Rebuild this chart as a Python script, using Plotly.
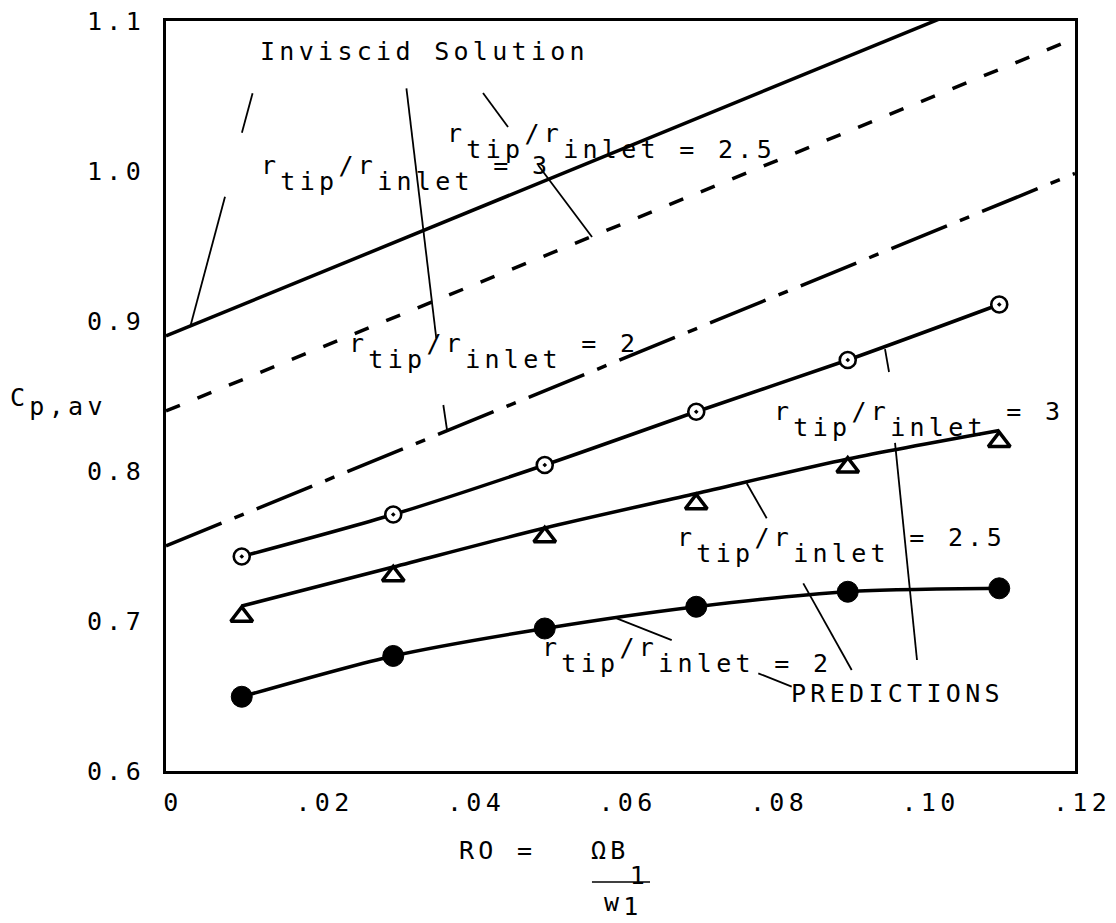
import plotly.graph_objects as go

# ---------------- data ----------------
x_meas = [0.01, 0.03, 0.05, 0.07, 0.09, 0.11]

# measured points
meas_r3 = [0.743, 0.771, 0.804, 0.8395, 0.874, 0.911]      # circle with dot
meas_r25 = [0.703, 0.730, 0.756, 0.778, 0.8025, 0.8195]    # open triangles
meas_r2 = [0.6495, 0.6767, 0.695, 0.7095, 0.7195, 0.7218]  # filled circles

# predictions (smooth curves)
pred_r3 = [0.743, 0.771, 0.804, 0.8395, 0.874, 0.911]
pred_r25 = [0.710, 0.736, 0.762, 0.785, 0.808, 0.827]
pred_r2 = [0.6495, 0.6767, 0.695, 0.7095, 0.7195, 0.7218]

# inviscid solution (straight lines)
inv_x = [0.0, 0.12]
inv_r3 = [0.89, 1.1384]
inv_r25 = [0.84, 1.0884]
inv_r2 = [0.75, 0.9984]

ratio_values = ["3", "2.5", "2"]

x_tickvals = [0, 0.02, 0.04, 0.06, 0.08, 0.10, 0.12]
x_ticktext = ["0", ".02", ".04", ".06", ".08", ".10", ".12"]
y_tickvals = [0.6, 0.7, 0.8, 0.9, 1.0, 1.1]
y_ticktext = ["0.6", "0.7", "0.8", "0.9", "1.0", "1.1"]

# ---------------- styling helpers ----------------
FONT = "DejaVu Sans Mono"
FS = 25
LS = "letter-spacing:4.3px"


def spaced(t):
    return f'<span style="{LS}">{t}</span>'


def low(t, shift=16):
    return f'<span style="baseline-shift:-{shift}px">{t}</span>'


def ratio_label(val, eq_low):
    eq = f" = {val}"
    return spaced("r" + low("tip") + "/r" + low("inlet") + (low(eq) if eq_low else eq))


fig = go.Figure()

# inviscid solution lines
fig.add_trace(go.Scatter(x=inv_x, y=inv_r3, mode="lines",
                         line=dict(color="black", width=3.5), showlegend=False))
fig.add_trace(go.Scatter(x=inv_x, y=inv_r25, mode="lines",
                         line=dict(color="black", width=3.5, dash="15px,19px"), showlegend=False))
fig.add_trace(go.Scatter(x=inv_x, y=inv_r2, mode="lines",
                         line=dict(color="black", width=3.5, dash="60px,14px,10px,14px"),
                         showlegend=False))

# prediction curves
for ys in (pred_r3, pred_r25, pred_r2):
    fig.add_trace(go.Scatter(x=x_meas, y=ys, mode="lines",
                             line=dict(color="black", width=3.5, shape="spline", smoothing=0.8),
                             showlegend=False))

# measured markers
fig.add_trace(go.Scatter(x=x_meas, y=meas_r3, mode="markers", showlegend=False,
                         marker=dict(symbol="circle-dot", size=16, color="white",
                                     line=dict(color="black", width=2.6))))
fig.add_trace(go.Scatter(x=x_meas, y=meas_r25, mode="markers", showlegend=False,
                         marker=dict(symbol="triangle-up", size=19, color="white",
                                     line=dict(color="black", width=3.6))))
fig.add_trace(go.Scatter(x=x_meas, y=meas_r2, mode="markers", showlegend=False,
                         marker=dict(symbol="circle", size=21, color="black",
                                     line=dict(color="black", width=1))))

# leader lines (annotation pointers), data coordinates
leaders = [
    (0.01143, 1.0518, 0.01002, 1.0255),
    (0.00779, 0.9829, 0.00319, 0.8960),
    (0.03174, 1.0551, 0.03568, 0.8885),
    (0.04185, 1.0520, 0.04515, 1.0293),
    (0.04911, 1.0040, 0.05624, 0.9560),
    (0.03661, 0.8440, 0.03714, 0.8260),
    (0.09492, 0.8813, 0.09545, 0.8660),
    (0.07666, 0.7918, 0.07930, 0.7685),
    (0.05950, 0.7018, 0.06676, 0.6873),
    (0.07819, 0.6651, 0.08260, 0.6562),
    (0.08413, 0.7251, 0.09052, 0.6673),
    (0.09624, 0.8187, 0.09914, 0.6740),
]
shapes = [dict(type="line", xref="x", yref="y", x0=a, y0=b, x1=c, y1=d,
               line=dict(color="black", width=1.8)) for a, b, c, d in leaders]
# fraction bar of the x-axis title
shapes.append(dict(type="line", xref="paper", yref="paper", x0=0.4686, x1=0.5325,
                   y0=-0.148, y1=-0.148, line=dict(color="black", width=1.5)))

ann_font = dict(family=FONT, size=FS, color="black")


def ann(text, x, y, ref="data"):
    d = dict(text=text, x=x, y=y, xanchor="left", yanchor="top", showarrow=False,
             font=ann_font, align="left")
    if ref == "paper":
        d.update(xref="paper", yref="paper")
    else:
        d.update(xref="x", yref="y")
    return d


annotations = [
    ann(spaced("Inviscid Solution"), 0.01215, 1.0905),
    ann(ratio_label(ratio_values[0], False), 0.01228, 1.0150),
    ann(ratio_label(ratio_values[1], True), 0.03683, 1.0362),
    ann(ratio_label(ratio_values[2], False), 0.02389, 0.8958),
    ann(ratio_label(ratio_values[0], False), 0.0800, 0.8504),
    ann(ratio_label(ratio_values[1], False), 0.0672, 0.7668),
    ann(ratio_label(ratio_values[2], True), 0.04937, 0.6935),
    ann(spaced("PREDICTIONS"), 0.08224, 0.6626),
    # axis titles
    ann(spaced("C" + low("p,av", 9)), -0.1738, 0.52, ref="paper"),
    ann(spaced("RO ="), 0.3201, -0.084, ref="paper"),
    ann(spaced("ΩB" + low("1", 25)), 0.4653, -0.084, ref="paper"),
    ann(spaced("w" + low("1", 4)), 0.4796, -0.154, ref="paper"),
]

tick_font = dict(family=FONT, size=FS, color="black")

# the page body adds an 8 px margin; the figure is offset by it
fig.update_layout(
    width=1108, height=915,
    margin=dict(l=158, r=41, t=13, b=152),
    paper_bgcolor="white", plot_bgcolor="white",
    shapes=shapes, annotations=annotations,
    xaxis=dict(range=[0, 0.12], tickmode="array", tickvals=x_tickvals,
               ticktext=[spaced(t) for t in x_ticktext], tickfont=tick_font,
               ticks="outside", ticklen=7, tickwidth=2, tickcolor="rgba(0,0,0,0)",
               ticklabelshift=7, ticklabeloverflow="allow", automargin=False,
               showline=True, linewidth=3, linecolor="black", mirror=True,
               showgrid=False, zeroline=False),
    yaxis=dict(range=[0.6, 1.1], tickmode="array", tickvals=y_tickvals,
               ticktext=[spaced(t) for t in y_ticktext], tickfont=tick_font,
               ticks="outside", ticklen=13, tickwidth=2, tickcolor="rgba(0,0,0,0)",
               ticklabeloverflow="allow", automargin=False,
               showline=True, linewidth=3, linecolor="black", mirror=True,
               showgrid=False, zeroline=False),
    # overlay axes carry only the visible interior tick marks
    xaxis2=dict(range=[0, 0.12], overlaying="x", anchor="y", side="bottom",
                tickmode="array", tickvals=x_tickvals[1:-1], showticklabels=False,
                ticks="outside", ticklen=14, tickwidth=2, tickcolor="black",
                automargin=False, showline=False, showgrid=False, zeroline=False),
    yaxis2=dict(range=[0.6, 1.1], overlaying="y", anchor="x", side="left",
                tickmode="array", tickvals=y_tickvals[1:-1], showticklabels=False,
                ticks="outside", ticklen=16, tickwidth=2, tickcolor="black",
                automargin=False, showline=False, showgrid=False, zeroline=False),
)

fig.write_html("out.html")
